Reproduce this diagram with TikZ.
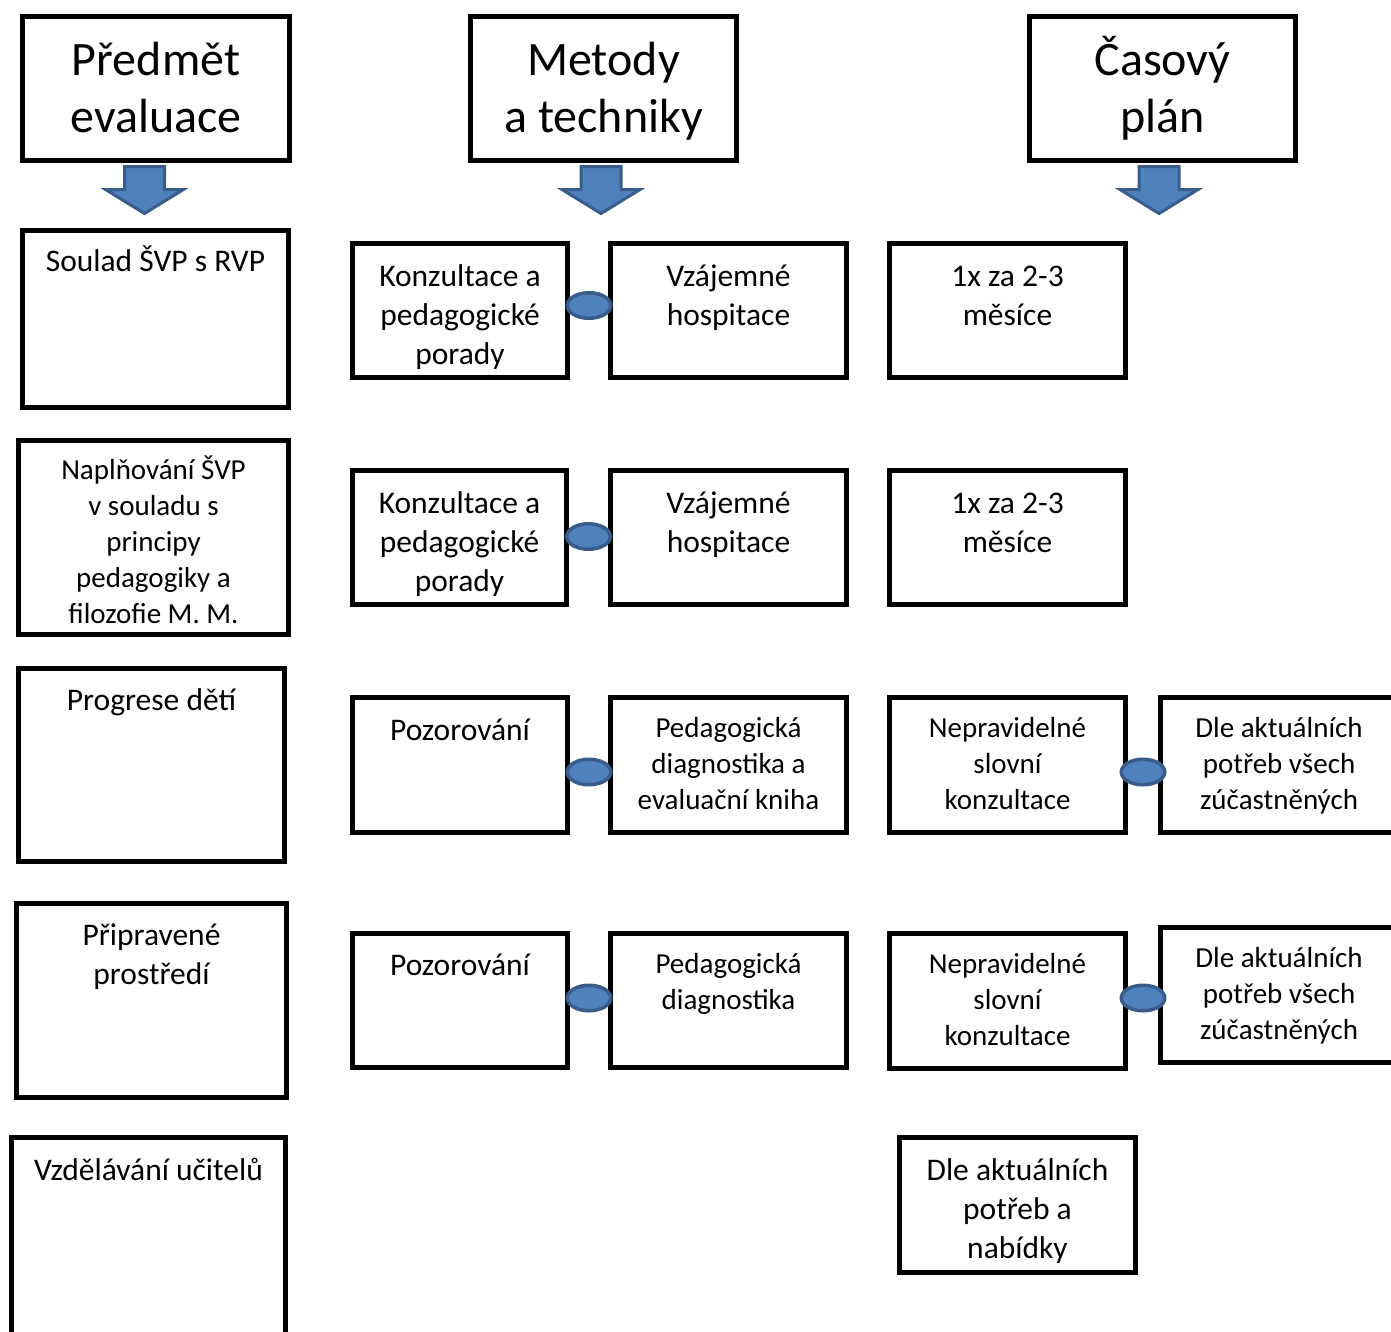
\documentclass[tikz,border=0pt]{standalone}
\usepackage{fontspec}
\setmainfont{Carlito}
\usetikzlibrary{shapes.geometric,calc}
\definecolor{accfill}{HTML}{4F81BD}
\definecolor{accline}{HTML}{385D8A}
\newcommand\mkbox[5]{\node[boxst, minimum width={#4-#2-5}, minimum height={#5-#3-5}] (#1) at ({(#2+#4)/2},{(#3+#5)/2}) {};}
\tikzset{
  boxst/.style={draw, rectangle, line width=5pt, inner sep=0pt},
  tbig/.style={font=\fontsize{31.5}{39}\selectfont, align=center, anchor=north, inner sep=0pt},
  tsmall/.style={font=\fontsize{29}{36}\selectfont, align=center, anchor=north, inner sep=0pt},
  ttitle/.style={font=\fontsize{48}{57}\selectfont, align=center, anchor=north, inner sep=0pt},
  conn/.style={ellipse, draw=accline, fill=accfill, line width=3.5pt, minimum width=43.5pt, minimum height=25.5pt, inner sep=0pt},
  arrowst/.style={draw=accline, fill=accfill, line width=3pt},
  downarr/.pic={\draw[arrowst] (-20,0) -- (20,0) -- (20,23) -- (39,23) -- (0,47) -- (-39,23) -- (-20,23) -- cycle;}
}
\begin{document}
\begin{tikzpicture}[x=1pt,y=-1pt]
\useasboundingbox (0,0) rectangle (1391,1331);
\begin{scope}
\clip (0,0) rectangle (1391,1331);
% titles
\mkbox{T1}{20}{14}{292}{163}
\mkbox{T2}{468}{14}{739}{163}
\mkbox{T3}{1027}{14}{1298}{163}
\node[ttitle] (tt1) at (156,35.1) {\strut Předmět\\evaluace};
\node[ttitle] (tt2) at (603.5,35.1) {\strut Metody\\a techniky};
\node[ttitle] (tt3) at (1162.5,35.1) {\strut Časový\\plán};
\pic at (144.5,166.5) {downarr};
\pic at (601,166.5) {downarr};
\pic at (1159,166.5) {downarr};
% left column
\mkbox{L1}{20}{228}{291}{410}
\mkbox{L2}{16}{438}{291}{637}
\mkbox{L3}{16}{666}{287}{864}
\mkbox{L4}{14}{901}{289}{1100}
\mkbox{L5}{9}{1135}{288}{1345}
\node[tbig] (tl1) at (155.5,243.7) {\strut Soulad ŠVP s RVP};
\node[tsmall] (tl2) at (153.5,453.8) {\strut Naplňování ŠVP\\v souladu s\\principy\\pedagogiky a\\filozofie M. M.};
\node[tbig] (tl3) at (151.5,682.7) {\strut Progrese dětí};
\node[tbig] (tl4) at (151.5,917.7) {\strut Připravené\\prostředí};
\node[tbig] (tl5) at (148.5,1152.7) {\strut Vzdělávání učitelů};
% row 1
\mkbox{a1}{350}{241}{570}{380}
\mkbox{b1}{608}{241}{849}{380}
\mkbox{c1}{887}{241}{1128}{380}
\node[tbig] (ta1) at (460,258.7) {\strut Konzultace a\\pedagogické\\porady};
\node[tbig] (tb1) at (728.5,258.7) {\strut Vzájemné\\hospitace};
\node[tbig] (tc1) at (1007.5,258.7) {\strut 1x za 2-3\\měsíce};
% row 2
\mkbox{a2}{350}{468}{569}{607}
\mkbox{b2}{608}{468}{849}{607}
\mkbox{c2}{887}{468}{1128}{607}
\node[tbig] (ta2) at (459.5,485.7) {\strut Konzultace a\\pedagogické\\porady};
\node[tbig] (tb2) at (728.5,485.7) {\strut Vzájemné\\hospitace};
\node[tbig] (tc2) at (1007.5,485.7) {\strut 1x za 2-3\\měsíce};
% row 3
\mkbox{a3}{350}{695}{570}{835}
\mkbox{b3}{608}{695}{849}{835}
\mkbox{c3}{887}{695}{1128}{835}
\mkbox{d3}{1158}{695}{1400}{835}
\node[tbig] (ta3) at (460,712.7) {\strut Pozorování};
\node[tsmall] (tb3) at (728.5,711.8) {\strut Pedagogická\\diagnostika a\\evaluační kniha};
\node[tsmall] (tc3) at (1007.5,711.8) {\strut Nepravidelné\\slovní\\konzultace};
\node[tsmall] (td3) at (1279,711.8) {\strut Dle aktuálních\\potřeb všech\\zúčastněných};
% row 4
\mkbox{a4}{350}{931}{570}{1070}
\mkbox{b4}{608}{931}{849}{1070}
\mkbox{c4}{887}{931}{1128}{1071}
\mkbox{d4}{1158}{925}{1400}{1065}
\node[tbig] (ta4) at (460,947.7) {\strut Pozorování};
\node[tsmall] (tb4) at (728.5,947.8) {\strut Pedagogická\\diagnostika};
\node[tsmall] (tc4) at (1007.5,947.8) {\strut Nepravidelné\\slovní\\konzultace};
\node[tsmall] (td4) at (1279,941.8) {\strut Dle aktuálních\\potřeb všech\\zúčastněných};
% bottom
\mkbox{E}{897}{1135}{1138}{1275}
\node[tbig] (tE) at (1017.5,1152.7) {\strut Dle aktuálních\\potřeb a\\nabídky};
% connectors
\node[conn] (e1) at ($(a1.east)!0.5!(b1.west)+(0,-5)$) {};
\node[conn] (e2) at ($(a2.east)!0.5!(b2.west)+(0,-1)$) {};
\node[conn] (e3) at ($(a3.east)!0.5!(b3.west)+(0,7)$) {};
\node[conn] (e4) at ($(a4.east)!0.5!(b4.west)+(0,-2.5)$) {};
\node[conn] (e5) at ($(c3.east)!0.5!(d3.west)+(0,7)$) {};
\node[conn] (e6) at ($(c4.east)!0.5!(d4.west)+(0,0)$) {};
\end{scope}
\end{tikzpicture}
\end{document}
